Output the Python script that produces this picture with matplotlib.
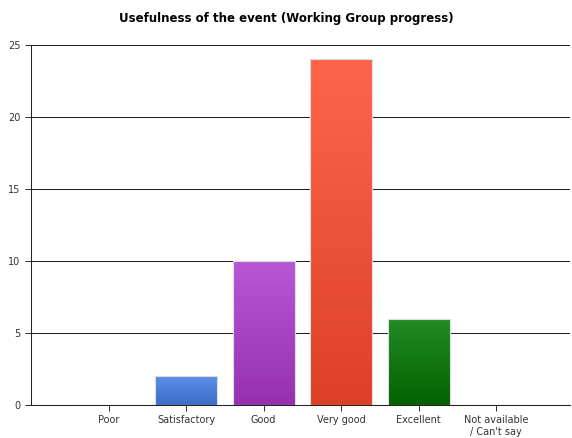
import numpy as np
import matplotlib.pyplot as plt
from matplotlib.colors import LinearSegmentedColormap

categories = ['Poor', 'Satisfactory', 'Good', 'Very good', 'Excellent', 'Not available\n/ Can\'t say']
counts = [0, 2, 10, 24, 6, 0]
top_colors = ['#5b8fe8', '#5b8fe8', '#b957d6', '#ff6548', '#238c23', '#cccccc']
bottom_colors = ['#3d6dc6', '#3d6dc6', '#9630ae', '#dc4126', '#006100', '#cccccc']

plt.rcParams['font.family'] = 'DejaVu Sans'
fig = plt.figure(figsize=(5.72, 4.38), dpi=100)
ax = fig.add_axes([0.0542, 0.0753, 0.942, 0.822])

x = np.arange(len(categories))
bars = ax.bar(x, counts, width=0.8, color='none', edgecolor='#dddddd', linewidth=0.8, zorder=3)

# vertical gradient fill, clipped to each bar
grad = np.linspace(1, 0, 256).reshape(-1, 1)
for b, c, t, bo in zip(bars, counts, top_colors, bottom_colors):
    if c == 0:
        continue
    cmap = LinearSegmentedColormap.from_list('g', [bo, t])
    x0 = b.get_x()
    im = ax.imshow(grad, cmap=cmap, aspect='auto', extent=[x0, x0 + b.get_width(), 0, c],
                   origin='upper', zorder=2, vmin=0, vmax=1)
    im.set_clip_path(b)

ax.set_xlim(-1, 5.95)
ax.set_ylim(0, 25)
ax.set_yticks([0, 5, 10, 15, 20, 25])
ax.yaxis.grid(True, color='#222222', linewidth=0.75, zorder=1)
ax.set_axisbelow(True)
ax.set_xticks(x)
ax.set_xticklabels(categories, fontsize=7, color='#333333')
ax.tick_params(axis='y', labelsize=7, labelcolor='#333333', length=4, color='#333333', width=0.75)
ax.tick_params(axis='x', length=4, color='#333333', width=0.75)
for s in ['top', 'right']:
    ax.spines[s].set_visible(False)
for s in ['left', 'bottom']:
    ax.spines[s].set_color('#222222')
    ax.spines[s].set_linewidth(0.75)

fig.suptitle('Usefulness of the event (Working Group progress)', fontsize=8.5,
             fontweight='bold', y=0.972)

fig.savefig('out.png', dpi=100)
